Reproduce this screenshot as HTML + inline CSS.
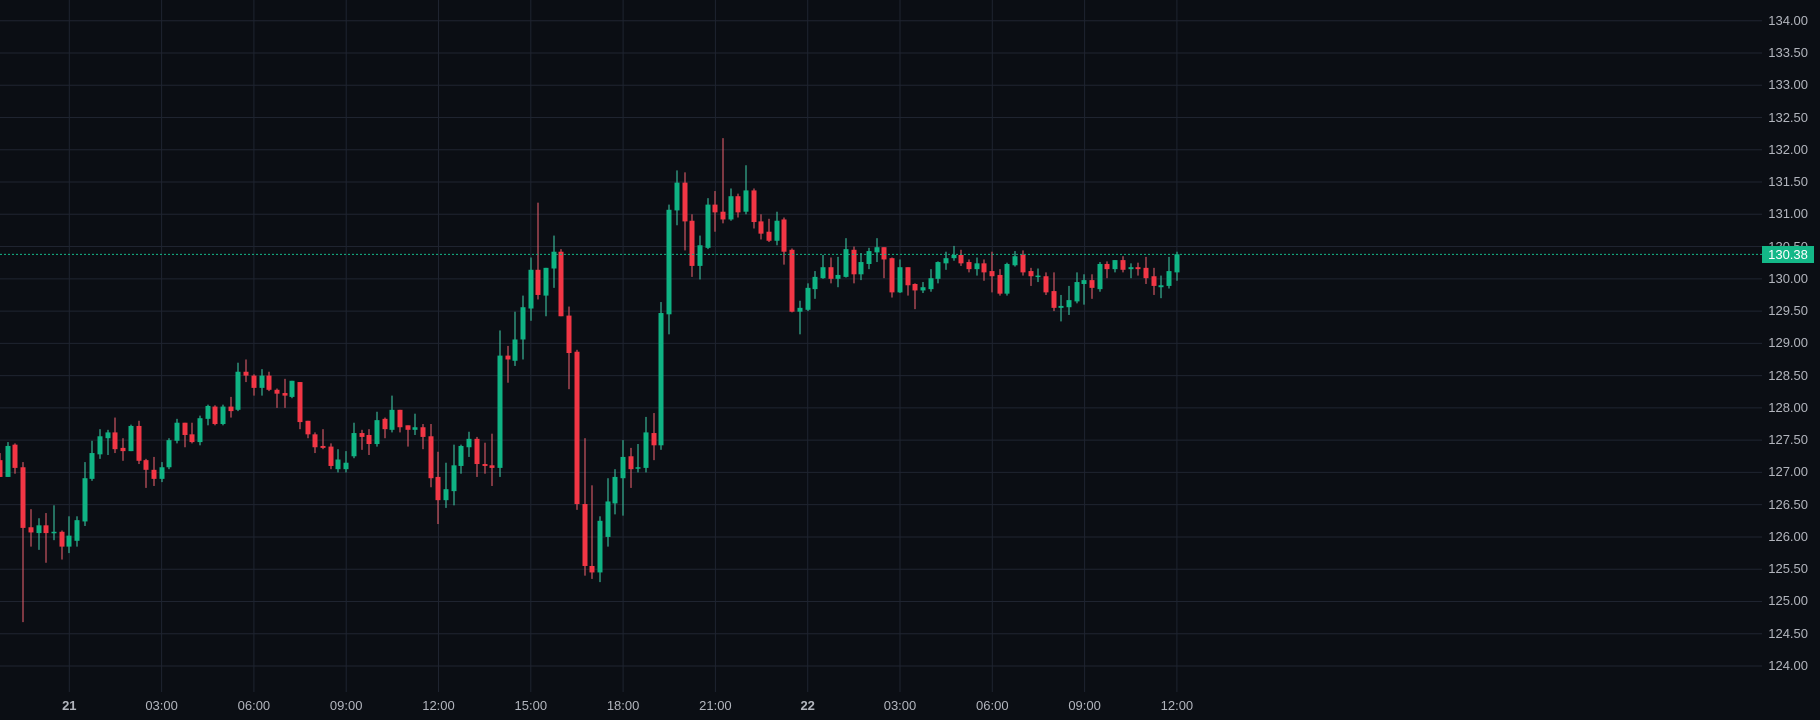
<!DOCTYPE html>
<html><head><meta charset="utf-8"><style>
html,body{margin:0;padding:0;background:#0b0e14;}
svg{display:block;}
text{font-family:"Liberation Sans",sans-serif;font-size:13px;fill:#b2b5bd;}
</style></head><body>
<svg id="c" width="1820" height="720" viewBox="0 0 1820 720" xmlns="http://www.w3.org/2000/svg">
<rect width="1820" height="720" fill="#0b0e14"/>
<g id="grid" stroke="#1f2430" stroke-width="1"></g>
<g id="candles"></g>
<line x1="0" y1="254.4" x2="1762" y2="254.4" stroke="#14b888" stroke-width="1" stroke-dasharray="2,2"/>
<g text-anchor="end">
<text x="1808" y="25">134.00</text>
<text x="1808" y="57">133.50</text>
<text x="1808" y="89">133.00</text>
<text x="1808" y="122">132.50</text>
<text x="1808" y="154">132.00</text>
<text x="1808" y="186">131.50</text>
<text x="1808" y="218">131.00</text>
<text x="1808" y="251">130.50</text>
<text x="1808" y="283">130.00</text>
<text x="1808" y="315">129.50</text>
<text x="1808" y="347">129.00</text>
<text x="1808" y="380">128.50</text>
<text x="1808" y="412">128.00</text>
<text x="1808" y="444">127.50</text>
<text x="1808" y="476">127.00</text>
<text x="1808" y="509">126.50</text>
<text x="1808" y="541">126.00</text>
<text x="1808" y="573">125.50</text>
<text x="1808" y="605">125.00</text>
<text x="1808" y="638">124.50</text>
<text x="1808" y="670">124.00</text>
</g>
<rect x="1762" y="246" width="52" height="17" fill="#14b888"/>
<text x="1788" y="259" text-anchor="middle" style="fill:#ffffff">130.38</text>
<g text-anchor="middle">
<text x="69.3" y="710" style="font-weight:bold">21</text>
<text x="161.6" y="710">03:00</text>
<text x="253.9" y="710">06:00</text>
<text x="346.2" y="710">09:00</text>
<text x="438.5" y="710">12:00</text>
<text x="530.8" y="710">15:00</text>
<text x="623.1" y="710">18:00</text>
<text x="715.4" y="710">21:00</text>
<text x="807.7" y="710" style="font-weight:bold">22</text>
<text x="900" y="710">03:00</text>
<text x="992.3" y="710">06:00</text>
<text x="1084.6" y="710">09:00</text>
<text x="1176.9" y="710">12:00</text>
</g>
</svg>
<script>
var NS="http://www.w3.org/2000/svg";
var grid=document.getElementById("grid");
for(var k=0;k<=20;k++){var y=20.7+k*32.265;var l=document.createElementNS(NS,"line");l.setAttribute("x1",0);l.setAttribute("x2",1762);l.setAttribute("y1",y);l.setAttribute("y2",y);grid.appendChild(l);}
for(var k=0;k<=12;k++){var x=69.3+k*92.3;var l=document.createElementNS(NS,"line");l.setAttribute("x1",x);l.setAttribute("x2",x);l.setAttribute("y1",0);l.setAttribute("y2",692);grid.appendChild(l);}
var d=[
[-9,127.19,127.30,126.93,126.93],[-8,126.93,127.47,126.93,127.41],[-7,127.43,127.45,126.98,127.07],[-6,127.08,127.16,124.68,126.14],
[-5,126.15,126.43,125.85,126.07],[-4,126.06,126.29,125.8,126.18],[-3,126.18,126.37,125.6,126.06],[-2,126.06,126.49,125.95,126.08],
[-1,126.08,126.1,125.65,125.85],[0,125.85,126.32,125.75,126.02],[1,125.94,126.32,125.85,126.26],[2,126.24,127.16,126.17,126.91],
[3,126.90,127.49,126.87,127.30],[4,127.28,127.67,127.21,127.56],[5,127.53,127.66,127.27,127.62],[6,127.62,127.85,127.30,127.36],
[7,127.38,127.53,127.18,127.33],[8,127.33,127.74,127.33,127.72],[9,127.72,127.80,127.13,127.18],[10,127.19,127.21,126.76,127.04],
[11,127.04,127.24,126.79,126.90],[12,126.90,127.16,126.85,127.08],[13,127.08,127.53,127.05,127.50],[14,127.49,127.83,127.45,127.77],
[15,127.77,127.77,127.39,127.58],[16,127.59,127.77,127.45,127.47],[17,127.47,127.88,127.42,127.84],[18,127.83,128.05,127.73,128.03],
[19,128.02,128.04,127.73,127.75],[20,127.75,128.05,127.73,128.02],[21,128.02,128.17,127.85,127.95],[22,127.97,128.70,127.95,128.56],
[23,128.56,128.75,128.40,128.50],[24,128.50,128.52,128.19,128.31],[25,128.31,128.60,128.19,128.50],[26,128.50,128.56,128.26,128.28],
[27,128.28,128.30,128.00,128.22],[28,128.23,128.45,128.00,128.19],[29,128.17,128.42,128.15,128.42],[30,128.40,128.40,127.67,127.78],
[31,127.80,127.80,127.53,127.59],[32,127.59,127.62,127.30,127.39],[33,127.41,127.67,127.36,127.38],[34,127.40,127.45,127.05,127.10],
[35,127.05,127.36,127.0,127.20],[36,127.05,127.33,127.0,127.15],[37,127.25,127.77,127.22,127.61],[38,127.61,127.66,127.35,127.55],
[39,127.58,127.67,127.27,127.44],[40,127.44,127.94,127.40,127.81],[41,127.83,127.85,127.53,127.67],[42,127.66,128.19,127.62,127.97],
[43,127.97,127.97,127.62,127.70],[44,127.73,127.73,127.40,127.66],[45,127.66,127.91,127.58,127.70],[46,127.70,127.75,127.36,127.55],
[47,127.56,127.75,126.77,126.91],[48,126.93,127.32,126.2,126.57],[49,126.57,127.15,126.45,126.74],[50,126.71,127.43,126.49,127.11],
[51,127.10,127.43,126.98,127.41],[52,127.39,127.63,127.24,127.52],[53,127.52,127.55,126.93,127.13],[54,127.13,127.46,126.98,127.10],
[55,127.11,127.60,126.79,127.07],[56,127.07,129.20,126.93,128.81],[57,128.81,128.96,128.39,128.75],[58,128.73,129.49,128.65,129.06],
[59,129.06,129.74,128.75,129.56],[60,129.54,130.33,129.35,130.14],[61,130.14,131.18,129.68,129.75],[62,129.74,130.17,129.42,130.17],
[63,130.16,130.67,129.86,130.42],[64,130.42,130.46,129.42,129.42],[65,129.43,129.57,128.29,128.85],[66,128.87,128.90,126.42,126.51],
[67,126.51,127.53,125.4,125.55],[68,125.55,126.80,125.35,125.45],[69,125.45,126.32,125.30,126.25],[70,126.0,126.91,125.85,126.55],
[71,126.52,127.05,126.35,126.93],[72,126.91,127.50,126.33,127.24],[73,127.25,127.38,126.76,127.05],[74,127.07,127.44,127.0,127.08],
[75,127.07,127.86,127.0,127.62],[76,127.61,127.92,127.19,127.42],[77,127.42,129.64,127.35,129.47],[78,129.45,131.15,129.14,131.07],
[79,131.06,131.68,130.83,131.49],[80,131.49,131.65,130.44,130.89],[81,130.90,131.00,130.03,130.20],[82,130.20,130.67,129.99,130.52],
[83,130.48,131.25,130.46,131.15],[84,131.15,131.36,130.73,131.03],[85,131.04,132.18,130.86,130.92],[86,130.92,131.40,130.90,131.28],
[87,131.28,131.32,130.95,131.03],[88,131.04,131.76,131.0,131.37],[89,131.37,131.40,130.78,130.88],[90,130.89,131.00,130.61,130.70],
[91,130.73,130.93,130.57,130.59],[92,130.59,131.04,130.52,130.90],[93,130.92,130.95,130.22,130.42],[94,130.45,130.47,129.48,129.49],
[95,129.49,129.66,129.14,129.55],[96,129.52,129.93,129.50,129.86],[97,129.84,130.12,129.69,130.03],[98,130.01,130.37,130.0,130.18],
[99,130.18,130.33,129.93,130.0],[100,130.0,130.34,129.87,130.06],[101,130.03,130.63,130.02,130.46],[102,130.45,130.50,129.93,130.07],
[103,130.07,130.40,129.98,130.26],[104,130.23,130.48,130.15,130.43],[105,130.41,130.63,130.26,130.49],[106,130.49,130.49,130.01,130.30],
[107,130.32,130.33,129.71,129.79],[108,129.79,130.30,129.78,130.18],[109,130.18,130.18,129.74,129.90],[110,129.92,129.93,129.53,129.82],
[111,129.82,129.95,129.78,129.87],[112,129.84,130.15,129.80,130.01],[113,130.0,130.27,129.93,130.26],[114,130.24,130.42,130.14,130.32],
[115,130.32,130.51,130.28,130.37],[116,130.37,130.45,130.20,130.24],[117,130.26,130.30,130.10,130.15],[118,130.15,130.33,130.05,130.24],
[119,130.24,130.30,129.97,130.10],[120,130.12,130.42,129.79,130.04],[121,130.06,130.15,129.74,129.77],[122,129.77,130.25,129.74,130.23],
[123,130.21,130.43,130.19,130.35],[124,130.37,130.44,130.05,130.10],[125,130.12,130.17,129.89,130.04],[126,130.04,130.16,129.95,130.05],
[127,130.04,130.10,129.75,129.79],[128,129.81,130.10,129.50,129.55],[129,129.55,129.75,129.34,129.58],[130,129.56,129.89,129.44,129.67],
[131,129.65,130.10,129.62,129.95],[132,129.92,130.07,129.60,129.98],[133,129.98,130.07,129.69,129.86],[134,129.84,130.26,129.80,130.23],
[135,130.23,130.27,130.01,130.15],[136,130.15,130.29,130.10,130.29],[137,130.29,130.35,130.10,130.14],[138,130.15,130.24,130.01,130.18],
[139,130.18,130.25,130.05,130.15],[140,130.17,130.34,129.92,130.01],[141,130.04,130.17,129.75,129.89],[142,129.87,130.05,129.70,129.90],
[143,129.89,130.34,129.85,130.12],[144,130.10,130.42,129.97,130.38]];
function Y(p){return 20.7+(134-p)*64.53;}
var g=document.getElementById("candles");
d.forEach(function(c){
 var x=69.3+c[0]*7.69, o=c[1],h=c[2],l=c[3],cl=c[4];
 var up=cl>=o; var body=up?"#0fb383":"#f23645"; var wick=up?"#3fd1ad":"#f0636f";
 var w=document.createElementNS(NS,"rect");
 w.setAttribute("x",Math.round(x)-0.5);w.setAttribute("width",1);
 w.setAttribute("y",Y(h));w.setAttribute("height",Math.max(1,Y(l)-Y(h)));w.setAttribute("fill",wick);g.appendChild(w);
 var b=document.createElementNS(NS,"rect");
 var t=Y(Math.max(o,cl)),bt=Y(Math.min(o,cl));
 b.setAttribute("x",Math.round(x)-2.5);b.setAttribute("width",5);
 b.setAttribute("y",t);b.setAttribute("height",Math.max(1.5,bt-t));b.setAttribute("fill",body);g.appendChild(b);
});
</script>
</body></html>
